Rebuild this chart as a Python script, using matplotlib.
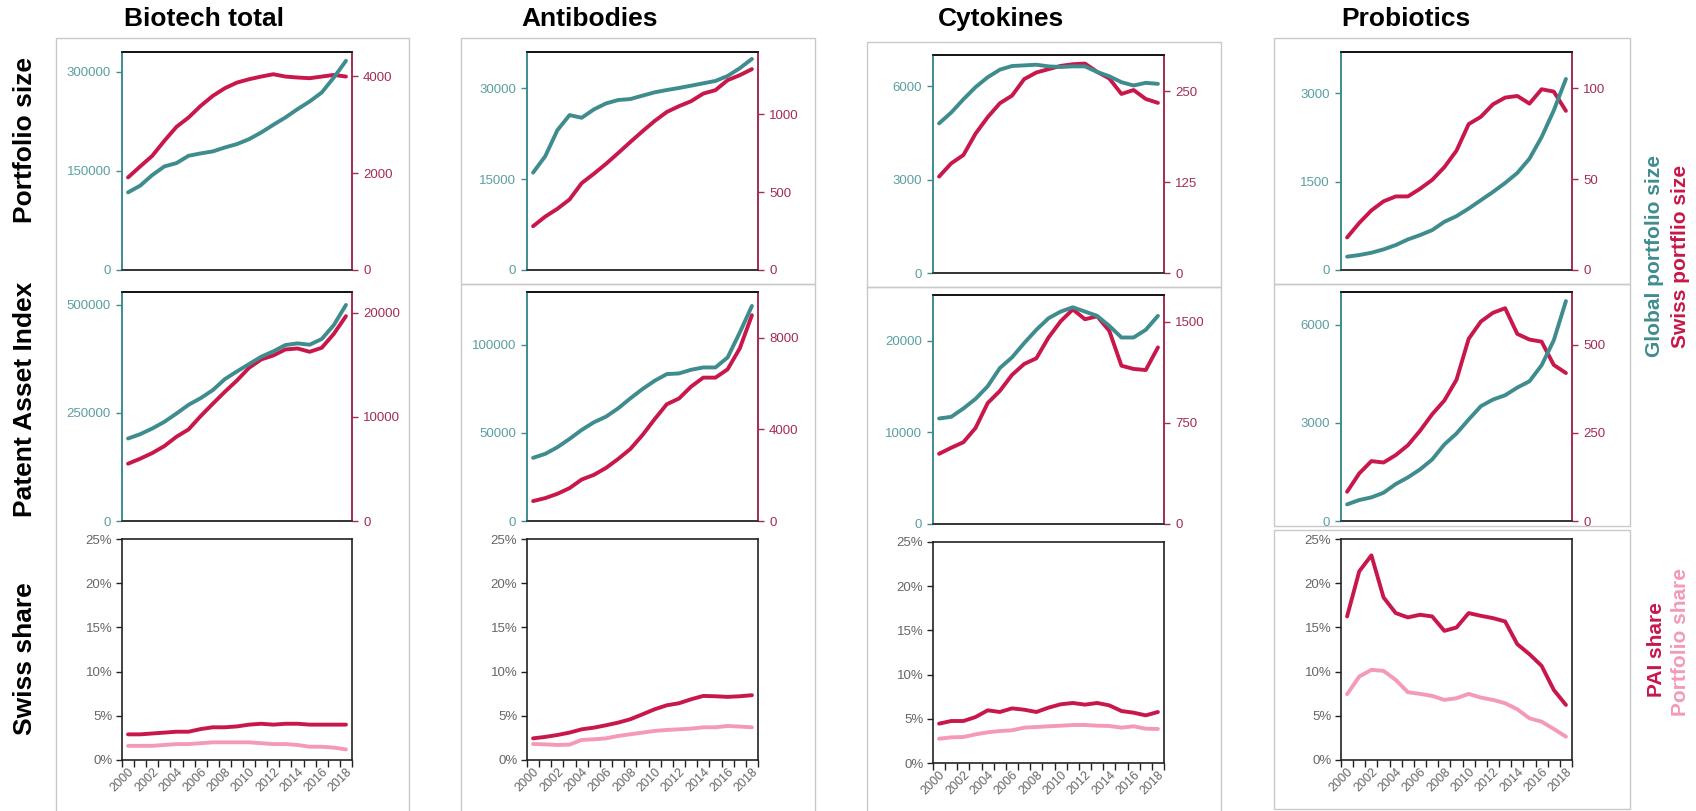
import matplotlib
matplotlib.use("Agg")
import matplotlib.pyplot as plt
from matplotlib.patches import Rectangle

plt.rcParams['font.family'] = ['Liberation Sans', 'DejaVu Sans']

years = list(range(2000, 2019))
columns = ["Biotech total", "Antibodies", "Cytokines", "Probiotics"]

# --- Biotech total ---
biotech_global_size = [117500, 127600, 143700, 156800, 161800, 172900, 176500, 179500, 185500, 190600,
                       198100, 208200, 219800, 230900, 243500, 255100, 268700, 291400, 316600]
biotech_swiss_size = [1911, 2137, 2357, 2667, 2955, 3148, 3388, 3594, 3753, 3869,
                      3938, 3993, 4041, 3993, 3973, 3959, 3993, 4027, 3993]
biotech_global_pai = [190900, 200900, 214100, 229500, 248800, 268900, 284400, 302900, 328400, 346200,
                      363200, 380200, 392600, 407300, 411100, 408000, 421200, 453600, 500000]
biotech_swiss_pai = [5504, 5984, 6528, 7200, 8096, 8800, 10080, 11264, 12416, 13504,
                     14720, 15520, 15904, 16480, 16576, 16256, 16640, 17984, 19680]
biotech_pai_share = [2.9, 2.9, 3.0, 3.1, 3.2, 3.2, 3.5, 3.7, 3.7, 3.8,
                     4.0, 4.1, 4.0, 4.1, 4.1, 4.0, 4.0, 4.0, 4.0]
biotech_size_share = [1.6, 1.6, 1.6, 1.7, 1.8, 1.8, 1.9, 2.0, 2.0, 2.0,
                      2.0, 1.9, 1.8, 1.8, 1.7, 1.5, 1.5, 1.4, 1.2]

# --- Antibodies ---
antib_global_size = [16080, 18790, 23090, 25580, 25140, 26520, 27510, 28070, 28230, 28790,
                     29340, 29720, 30060, 30440, 30830, 31220, 32040, 33320, 34860]
antib_swiss_size = [281, 343, 393, 453, 558, 618, 682, 751, 822, 891,
                    957, 1015, 1052, 1084, 1133, 1155, 1219, 1251, 1290]
antib_global_pai = [35850, 38110, 41890, 46600, 51700, 56040, 59250, 63960, 69620, 74910,
                    79620, 83400, 83770, 85850, 87170, 87170, 92830, 106980, 122080]
antib_swiss_pai = [870, 1000, 1188, 1435, 1812, 2014, 2319, 2710, 3145, 3754,
                   4449, 5101, 5348, 5870, 6261, 6261, 6623, 7536, 8986]
antib_pai_share = [2.45, 2.61, 2.83, 3.10, 3.47, 3.66, 3.93, 4.23, 4.61, 5.17,
                   5.74, 6.19, 6.42, 6.87, 7.25, 7.21, 7.14, 7.21, 7.33]
antib_size_share = [1.81, 1.77, 1.70, 1.74, 2.27, 2.34, 2.45, 2.72, 2.91, 3.10,
                    3.29, 3.40, 3.47, 3.55, 3.70, 3.70, 3.85, 3.78, 3.70]

# --- Cytokines ---
cyto_global_size = [4804, 5153, 5577, 5968, 6286, 6529, 6646, 6667, 6688, 6635,
                    6614, 6635, 6635, 6455, 6317, 6127, 6021, 6106, 6074]
cyto_swiss_size = [132.7, 150.9, 162.3, 191.8, 214.5, 233.6, 244.1, 266.8, 275.9, 280.5,
                   285.0, 287.3, 288.2, 276.8, 267.7, 246.4, 251.8, 239.5, 234.1]
cyto_global_pai = [11520, 11700, 12610, 13660, 15040, 17030, 18190, 19750, 21200, 22460,
                   23190, 23660, 23190, 22720, 21630, 20360, 20360, 21200, 22720]
cyto_swiss_pai = [521, 566, 607, 713, 898, 988, 1107, 1188, 1230, 1384,
                  1505, 1593, 1520, 1542, 1434, 1175, 1151, 1143, 1311]
cyto_pai_share = [4.45, 4.75, 4.75, 5.20, 5.96, 5.77, 6.18, 6.03, 5.77, 6.26,
                  6.64, 6.79, 6.60, 6.79, 6.52, 5.88, 5.69, 5.39, 5.77]
cyto_size_share = [2.75, 2.90, 2.94, 3.24, 3.47, 3.62, 3.70, 4.00, 4.07, 4.15,
                   4.22, 4.30, 4.30, 4.22, 4.19, 4.00, 4.15, 3.88, 3.85]

# --- Probiotics ---
probio_global_size = [226, 254, 293, 350, 423, 519, 592, 677, 818, 914,
                      1043, 1184, 1325, 1477, 1647, 1889, 2256, 2707, 3242]
probio_swiss_size = [17.9, 25.9, 32.8, 37.8, 40.5, 40.5, 44.7, 49.6, 56.6, 65.7,
                     80.3, 84.3, 91.2, 94.9, 95.8, 91.6, 99.5, 98.2, 87.6]
probio_global_pai = [508, 641, 722, 864, 1129, 1332, 1576, 1881, 2339, 2675,
                     3102, 3508, 3712, 3844, 4078, 4271, 4760, 5522, 6722]
probio_swiss_pai = [83, 135, 170, 166, 187, 215, 256, 303, 342, 401,
                    517, 566, 591, 604, 531, 515, 509, 443, 420]
probio_pai_share = [16.24, 21.34, 23.15, 18.39, 16.62, 16.13, 16.43, 16.24, 14.61, 14.99,
                    16.62, 16.31, 16.05, 15.67, 13.10, 11.97, 10.65, 7.93, 6.23]
probio_size_share = [7.44, 9.44, 10.20, 10.08, 9.06, 7.67, 7.48, 7.25, 6.80, 6.99,
                     7.48, 7.06, 6.80, 6.42, 5.74, 4.72, 4.34, 3.51, 2.64]

size_global = [biotech_global_size, antib_global_size, cyto_global_size, probio_global_size]
size_swiss = [biotech_swiss_size, antib_swiss_size, cyto_swiss_size, probio_swiss_size]
pai_global = [biotech_global_pai, antib_global_pai, cyto_global_pai, probio_global_pai]
pai_swiss = [biotech_swiss_pai, antib_swiss_pai, cyto_swiss_pai, probio_swiss_pai]
pai_share = [biotech_pai_share, antib_pai_share, cyto_pai_share, probio_pai_share]
size_share = [biotech_size_share, antib_size_share, cyto_size_share, probio_size_share]

# axis scales (step, max) for left/right axes: [row][col]
left_scale = [[(150000, 330000), (15000, 36000), (3000, 7000), (1500, 3700)],
              [(250000, 530000), (50000, 130000), (10000, 25000), (3000, 7000)]]
right_scale = [[(2000, 4500), (500, 1400), (125, 300), (50, 120)],
               [(10000, 22000), (4000, 10000), (750, 1700), (250, 650)]]

TEAL = "#3F8C8E"
TEAL_TXT = "#5A9FA1"
CRIMSON = "#C8174A"
CRIMSON_TXT = "#A32C52"
PINK = "#F49AB6"
GRAY_TXT = "#666666"

W, H = 1696, 811
fig = plt.figure(figsize=(W / 100, H / 100), dpi=100)

col_left = [122, 527, 933, 1341]
col_right = [352, 758, 1164, 1572]
col_dy = [0, 0, 3, 0]
row_top = [52, 292, 539]
row_bot = [270, 521, 760]


def box(l, t, r, b):
    return [l / W, 1 - b / H, (r - l) / W, (b - t) / H]


# gray frames around the cells
frames = [(56, 38, 409, 815),
          (461, 38, 815, 284), (461, 284, 815, 815),
          (867, 42, 1221, 287), (867, 287, 1221, 815),
          (1274, 38, 1630, 284), (1274, 284, 1630, 526), (1274, 530, 1630, 809)]
for (l, t, r, b) in frames:
    fig.patches.append(Rectangle((l / W, 1 - b / H), (r - l) / W, (b - t) / H,
                                 transform=fig.transFigure, fill=False,
                                 edgecolor="#C9C9C9", lw=1.0, zorder=0))

x = list(range(len(years)))

for c in range(4):
    for r in range(2):
        ax = fig.add_axes(box(col_left[c], row_top[r] + col_dy[c], col_right[c], row_bot[r] + col_dy[c]))
        ax2 = ax.twinx()
        g = size_global[c] if r == 0 else pai_global[c]
        s = size_swiss[c] if r == 0 else pai_swiss[c]
        ax.plot(x, g, color=TEAL, lw=2.8, solid_capstyle='round', zorder=3)
        ax2.plot(x, s, color=CRIMSON, lw=2.8, solid_capstyle='round')
        ax.set_zorder(ax2.get_zorder() + 1)
        ax.patch.set_visible(False)
        ax.set_xlim(-0.5, 18.5)
        step, top = left_scale[r][c]
        ax.set_ylim(0, top)
        ax.set_yticks([0, step, 2 * step])
        ax.set_yticklabels([str(v) for v in [0, step, 2 * step]])
        step2, top2 = right_scale[r][c]
        ax2.set_ylim(0, top2)
        ax2.set_yticks([0, step2, 2 * step2])
        ax2.set_yticklabels([str(v) for v in [0, step2, 2 * step2]])
        ax.set_xticks([])
        for a in (ax, ax2):
            a.spines['top'].set_color("#111111")
            a.spines['bottom'].set_color("#333333")
            a.spines['left'].set_color(TEAL)
            a.spines['right'].set_color(CRIMSON_TXT)
            for sp in a.spines.values():
                sp.set_linewidth(1.2)
        ax.tick_params(axis='y', direction='out', length=4, width=1, color=TEAL,
                       labelcolor=TEAL_TXT, labelsize=9.5, pad=4)
        ax2.tick_params(axis='y', direction='out', length=4, width=1, color=CRIMSON_TXT,
                        labelcolor=CRIMSON_TXT, labelsize=9.5, pad=4)

    # Swiss share row
    ax = fig.add_axes(box(col_left[c], row_top[2] + col_dy[c], col_right[c], row_bot[2] + col_dy[c]))
    ax.plot(x, [v / 100 for v in size_share[c]], color=PINK, lw=2.8, solid_capstyle='round')
    ax.plot(x, [v / 100 for v in pai_share[c]], color=CRIMSON, lw=2.8, solid_capstyle='round')
    ax.set_xlim(-0.5, 18.5)
    ax.set_ylim(0, 0.25)
    ax.set_yticks([0, 0.05, 0.10, 0.15, 0.20, 0.25])
    ax.set_yticklabels(["0%", "5%", "10%", "15%", "20%", "25%"])
    ax.set_xticks([i - 0.5 for i in range(20)])
    ax.set_xticklabels([])
    ax.set_xticks(x[::2], minor=True)
    ax.set_xticklabels([str(y) for y in years[::2]], minor=True, rotation=45,
                       ha='right', rotation_mode='anchor')
    ax.tick_params(axis='x', which='major', direction='out', length=5, width=1, color="#222222")
    ax.tick_params(axis='x', which='minor', length=0, labelsize=9, labelcolor=GRAY_TXT, pad=4)
    ax.tick_params(axis='y', direction='out', length=4, width=1, color="#222222",
                   labelcolor=GRAY_TXT, labelsize=9.5, pad=3)
    for sp in ax.spines.values():
        sp.set_color("#222222")
        sp.set_linewidth(1.2)

# column titles
title_x = [204, 590, 1001, 1406]
for c in range(4):
    fig.text(title_x[c] / W, 1 - 19 / H, columns[c], fontsize=19, fontweight='bold',
             ha='center', va='center')

# row labels
row_labels = ["Portfolio size", "Patent Asset Index", "Swiss share"]
row_label_y = [140, 399, 659]
for lab, yy in zip(row_labels, row_label_y):
    fig.text(25 / W, 1 - yy / H, lab, fontsize=19, fontweight='bold', rotation=90,
             ha='center', va='center')

# right side legends
fig.text(1655 / W, 1 - 256 / H, "Global portfolio size", color=TEAL, fontsize=15,
         fontweight='bold', rotation=90, ha='center', va='center')
fig.text(1680 / W, 1 - 256 / H, "Swiss portflio size", color=CRIMSON, fontsize=15,
         fontweight='bold', rotation=90, ha='center', va='center')
fig.text(1657 / W, 1 - 650 / H, "PAI share", color=CRIMSON, fontsize=15,
         fontweight='bold', rotation=90, ha='center', va='center')
fig.text(1680 / W, 1 - 642 / H, "Portfolio share", color=PINK, fontsize=15,
         fontweight='bold', rotation=90, ha='center', va='center')

fig.savefig("out.png", dpi=100, facecolor="white")
